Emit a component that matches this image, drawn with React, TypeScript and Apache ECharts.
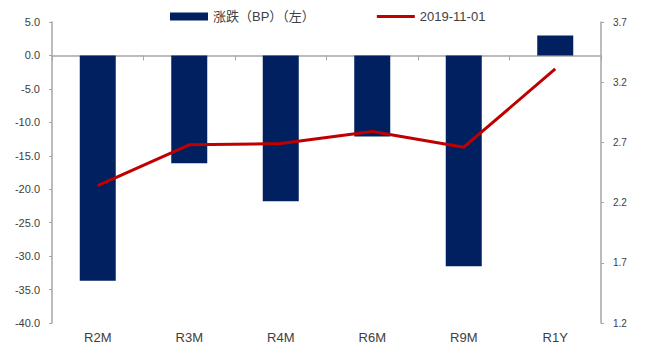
import React, { useEffect, useRef } from "react";
import * as echarts from "echarts";

const categories = ["R2M", "R3M", "R4M", "R6M", "R9M", "R1Y"];
const changeBP = [-33.7, -16.1, -21.8, -12.1, -31.5, 3.0];
const yield20191101 = [2.34, 2.68, 2.69, 2.79, 2.66, 3.31];
const rightTicks = [1.2, 1.7, 2.2, 2.7, 3.2, 3.7];
const seriesNames = ["涨跌（BP）（左）", "2019-11-01"];

const AXIS_COLOR = "#A6A6A6";
const TEXT_COLOR = "#404040";
const FONT = "'Liberation Sans', 'Noto Sans CJK SC', sans-serif";

export default function App() {
  const ref = useRef<HTMLDivElement>(null);
  useEffect(() => {
    if (!ref.current) return;
    const chart = echarts.init(ref.current, null, { renderer: "svg" });
    chart.setOption({
      animation: false,
      backgroundColor: "#ffffff",
      textStyle: { fontFamily: FONT },
      legend: {
        left: 165,
        top: 5,
        itemWidth: 38,
        itemHeight: 8,
        itemGap: 62,
        textStyle: { fontSize: 13, color: TEXT_COLOR, fontFamily: FONT },
        data: [
          { name: seriesNames[0], icon: "rect" },
          { name: seriesNames[1], icon: "path://M0,0 M0,2.5 L38,2.5 L38,5.5 L0,5.5 Z M38,8" },
        ],
      },
      grid: { left: 52, right: 50, top: 22, bottom: 24, containLabel: false, outerBoundsMode: "none" },
      xAxis: [
        {
          type: "category",
          data: categories,
          position: "bottom",
          axisLine: { show: false, onZero: false },
          axisTick: { show: false },
          axisLabel: { fontSize: 13, color: TEXT_COLOR, margin: 8, fontFamily: FONT },
          splitLine: { show: false },
        },
        {
          type: "category",
          data: categories,
          position: "top",
          axisLine: { show: true, onZero: true, onZeroAxisIndex: 0, lineStyle: { color: AXIS_COLOR, width: 1.5 } },
          axisTick: { show: true, inside: true, length: 5, lineStyle: { color: AXIS_COLOR } },
          axisLabel: { show: false },
          splitLine: { show: false },
        },
      ],
      yAxis: [
        {
          type: "value",
          min: -40,
          max: 5,
          interval: 5,
          position: "left",
          axisLine: { show: true, lineStyle: { color: AXIS_COLOR, width: 1.5 } },
          axisTick: { show: true, length: 3, lineStyle: { color: AXIS_COLOR } },
          axisLabel: {
            fontSize: 11,
            color: TEXT_COLOR,
            margin: 12,
            formatter: (v: number) => v.toFixed(1),
          },
          splitLine: { show: false },
        },
        {
          type: "value",
          min: 1.2,
          max: 3.7,
          position: "right",
          axisLine: { show: true, lineStyle: { color: AXIS_COLOR, width: 1.5 } },
          axisTick: { show: true, length: 3, customValues: rightTicks, lineStyle: { color: AXIS_COLOR } },
          axisLabel: {
            fontSize: 10,
            color: TEXT_COLOR,
            margin: 12,
            customValues: rightTicks,
            formatter: (v: number) => v.toFixed(1),
          },
          splitLine: { show: false },
        },
      ],
      series: [
        {
          name: seriesNames[0],
          type: "bar",
          xAxisIndex: 0,
          yAxisIndex: 0,
          data: changeBP,
          barWidth: 36,
          itemStyle: { color: "#002060" },
        },
        {
          name: seriesNames[1],
          type: "line",
          xAxisIndex: 0,
          yAxisIndex: 1,
          data: yield20191101,
          showSymbol: false,
          symbol: "none",
          lineStyle: { color: "#C00000", width: 3 },
          itemStyle: { color: "#C00000" },
        },
      ],
    });
    return () => chart.dispose();
  }, []);
  return <div ref={ref} style={{ width: 651, height: 347, position: "fixed", left: 0, top: 0 }} />;
}
